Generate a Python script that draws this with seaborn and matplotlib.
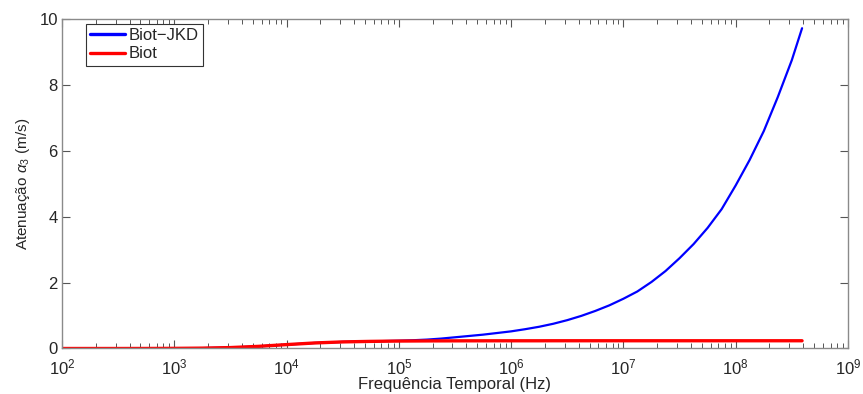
import numpy as np
import pandas as pd
import matplotlib
matplotlib.use("Agg")
import matplotlib.pyplot as plt
import matplotlib.ticker as mticker
import seaborn as sns

# frequencies (Hz), quarter decades low, eighth decades above 1e5
freq = [1e2, 1.78e2, 3.16e2, 5.62e2, 1e3, 1.78e3, 3.16e3, 5.62e3,
        1e4, 1.78e4, 3.16e4, 5.62e4,
        1e5, 1.33e5, 1.78e5, 2.37e5, 3.16e5, 4.22e5, 5.62e5, 7.5e5,
        1e6, 1.33e6, 1.78e6, 2.37e6, 3.16e6, 4.22e6, 5.62e6, 7.5e6,
        1e7, 1.33e7, 1.78e7, 2.37e7, 3.16e7, 4.22e7, 5.62e7, 7.5e7,
        1e8, 1.33e8, 1.78e8, 2.37e8, 3.16e8, 3.9e8]

biot_jkd = [0.0, 0.0, 0.0, 0.001, 0.004, 0.011, 0.028, 0.065,
            0.118, 0.168, 0.200, 0.216,
            0.235, 0.25, 0.27, 0.30, 0.34, 0.38, 0.42, 0.47,
            0.52, 0.585, 0.66, 0.75, 0.86, 0.99, 1.14, 1.31,
            1.51, 1.73, 2.02, 2.35, 2.74, 3.17, 3.66, 4.23,
            4.95, 5.72, 6.60, 7.63, 8.75, 9.72]

biot = [0.0, 0.0, 0.0, 0.001, 0.004, 0.011, 0.028, 0.065,
        0.118, 0.168, 0.200, 0.216,
        0.226, 0.228, 0.230, 0.231, 0.232, 0.233, 0.233, 0.234,
        0.234, 0.234, 0.234, 0.235, 0.235, 0.235, 0.235, 0.235,
        0.235, 0.235, 0.235, 0.235, 0.235, 0.235, 0.235, 0.235,
        0.235, 0.235, 0.235, 0.235, 0.235, 0.235]

decades = [2, 3, 4, 5, 6, 7, 8, 9]
y_ticks = [0, 2, 4, 6, 8, 10]

sns.set_style("ticks")
plt.rcParams['font.family'] = ['Liberation Sans', 'DejaVu Sans']
plt.rcParams['mathtext.fontset'] = 'custom'
plt.rcParams['mathtext.rm'] = 'Liberation Sans'
plt.rcParams['mathtext.it'] = 'Liberation Sans:italic'

df = pd.DataFrame({'freq': freq, 'Biot-JKD': biot_jkd, 'Biot': biot})

fig = plt.figure(figsize=(8.63, 3.94), dpi=100)
ax = fig.add_axes([0.0718, 0.1155, 0.9108, 0.8363])

sns.lineplot(data=df, x='freq', y='Biot-JKD', ax=ax, color='#0000ff',
             linewidth=1.6, label='Biot\u2212JKD')
sns.lineplot(data=df, x='freq', y='Biot', ax=ax, color='#ff0000',
             linewidth=2.4, label='Biot')

ax.set_xscale('log')
ax.set_xlim(1e2, 1e9)
ax.set_ylim(0, 10)
major = [10.0 ** d for d in decades]
minor = [m * 10.0 ** d for d in decades[:-1] for m in range(2, 10)]
ax.set_xticks(major)
ax.set_xticklabels([r'$10^{%d}$' % d for d in decades])
ax.set_xticks(minor, minor=True)
ax.xaxis.set_minor_formatter(mticker.NullFormatter())
ax.set_yticks(y_ticks)

grey = '#8a8a8a'
for sp in ax.spines.values():
    sp.set_visible(True)
    sp.set_color(grey)
    sp.set_linewidth(1.0)
ax.tick_params(which='both', direction='in', top=True, right=True,
               color='#555555', labelcolor='#262626', labelsize=12)
ax.tick_params(which='major', length=6, width=0.8)
ax.tick_params(which='minor', length=3.5, width=0.7)
ax.tick_params(axis='x', pad=6.5)
ax.tick_params(axis='y', pad=3)

ax.set_xlabel('Frequência Temporal (Hz)', fontsize=12, color='#262626', labelpad=0)
ax.set_ylabel(r'Atenuação $\alpha_3$ (m/s)', fontsize=11, color='#262626', labelpad=5)

leg = ax.legend(loc='upper left', bbox_to_anchor=(0.03, 0.985), fontsize=12,
                frameon=True, fancybox=False, handlelength=2.1,
                borderpad=0.25, labelspacing=0.2, handletextpad=0.25,
                borderaxespad=0.0)
leg.get_frame().set_edgecolor('#333333')
leg.get_frame().set_linewidth(0.8)
leg.get_frame().set_alpha(1)
for line in leg.get_lines():
    line.set_linewidth(2.4)

fig.savefig('out.png', dpi=100)
